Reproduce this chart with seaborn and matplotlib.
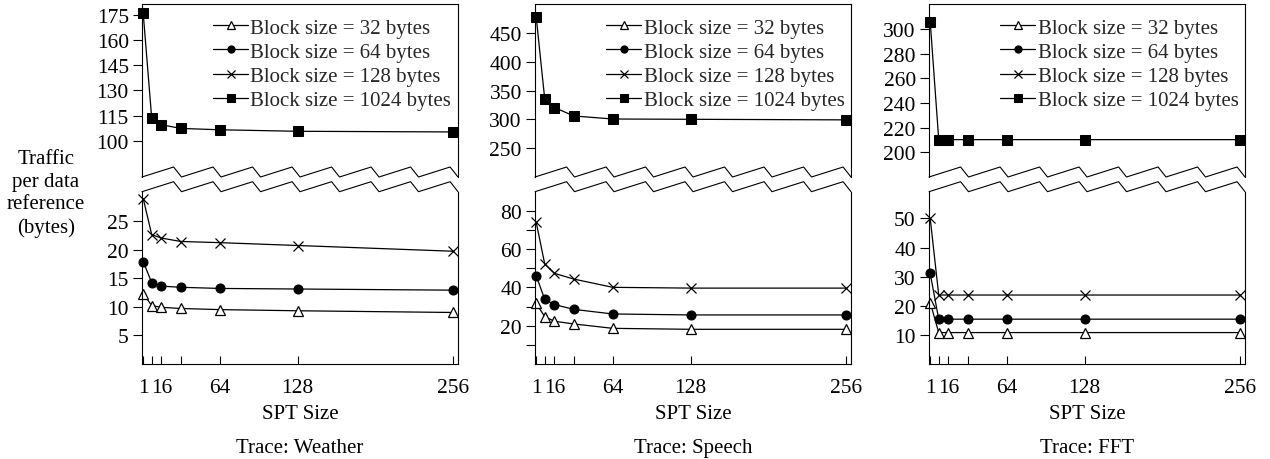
import numpy as np
import pandas as pd
import matplotlib
matplotlib.use("Agg")
import matplotlib.pyplot as plt
from matplotlib.ticker import FixedLocator, NullLocator
import seaborn as sns

sns.set_theme(style="white")
plt.rcParams["font.family"] = ["Liberation Serif", "DejaVu Serif"]

# SPT sizes on the x axis
spt = [1, 8, 16, 32, 64, 128, 256]
xtick_pos = [1, 8, 16, 32, 64, 128, 256]
xtick_lab = ["1", "", "16", "", "64", "128", "256"]

block_labels = ["Block size = 32 bytes", "Block size = 64 bytes",
                "Block size = 128 bytes", "Block size = 1024 bytes"]

# Traffic per data reference (bytes), per trace
weather_32 = [12.3, 10.2, 9.9, 9.7, 9.5, 9.3, 9.0]
weather_64 = [17.9, 14.2, 13.6, 13.4, 13.2, 13.1, 12.9]
weather_128 = [28.9, 22.6, 22.0, 21.4, 21.2, 20.7, 19.7]
weather_1024 = [176.0, 113.3, 109.5, 107.3, 106.5, 105.6, 105.2]

speech_32 = [31.6, 24.7, 22.3, 20.9, 18.6, 18.1, 18.1]
speech_64 = [46.1, 33.7, 31.0, 28.5, 26.1, 25.6, 25.6]
speech_128 = [73.9, 52.2, 47.3, 44.3, 40.0, 39.6, 39.6]
speech_1024 = [478.0, 335.5, 320.4, 305.8, 300.5, 300.0, 299.0]

fft_32 = [21.1, 10.8, 10.8, 10.8, 10.8, 10.8, 10.8]
fft_64 = [31.1, 15.4, 15.4, 15.4, 15.4, 15.4, 15.4]
fft_128 = [50.0, 23.7, 23.7, 23.7, 23.7, 23.7, 23.7]
fft_1024 = [305.9, 210.3, 210.3, 210.3, 210.3, 210.3, 210.3]

traces = ["Weather", "Speech", "FFT"]
series = {
    "Weather": [weather_32, weather_64, weather_128, weather_1024],
    "Speech": [speech_32, speech_64, speech_128, speech_1024],
    "FFT": [fft_32, fft_64, fft_128, fft_1024],
}

# axis ranges and ticks for the upper (1024 bytes) and lower parts
upper_ylim = {"Weather": (78.3, 181.6), "Speech": (199.4, 501.0), "FFT": (180.0, 320.3)}
lower_ylim = {"Weather": (0, 30.1), "Speech": (0, 89.9), "FFT": (0, 59.2)}
upper_ticks = {"Weather": [100, 115, 130, 145, 160, 175],
               "Speech": [250, 300, 350, 400, 450],
               "FFT": [200, 220, 240, 260, 280, 300]}
lower_ticks = {"Weather": [5, 10, 15, 20, 25],
               "Speech": [20, 40, 60, 80],
               "FFT": [10, 20, 30, 40, 50]}
lower_minor = {"Weather": [], "Speech": [10, 30, 50, 70], "FFT": []}

marker_styles = [
    dict(marker="^", markersize=7, markerfacecolor="white", markeredgecolor="black", markeredgewidth=0.9),
    dict(marker="o", markersize=6.5, markerfacecolor="black", markeredgecolor="black"),
    dict(marker="x", markersize=7, markeredgecolor="black", markeredgewidth=0.9),
    dict(marker="s", markersize=6.5, markerfacecolor="black", markeredgecolor="black"),
]

W, H = 1270, 460
fig = plt.figure(figsize=(W / 100, H / 100), dpi=100)

lefts_px = [142, 535, 929]
width_px = 316
up_top, up_bot = 5, 178
lo_top, lo_bot = 192.7, 365
fs = 15
tick_fs = 15.5


def zigzag(ax, base, height_px, ax_h_px, n=8, rise=0.8):
    h = height_px / ax_h_px
    xs, ys = [], []
    for k in range(n):
        xs += [k / n, (k + rise) / n]
        ys += [base, base + h]
    xs.append(1.0)
    ys.append(base)
    ax.plot(xs, ys, transform=ax.transAxes, color="black", lw=0.8,
            clip_on=False, solid_joinstyle="miter")


for i, tr in enumerate(traces):
    l = lefts_px[i] / W
    w = width_px / W
    ax_up = fig.add_axes([l, 1 - up_bot / H, w, (up_bot - up_top) / H])
    ax_lo = fig.add_axes([l, 1 - lo_bot / H, w, (lo_bot - lo_top) / H])

    vals = series[tr]
    for j in range(4):
        df = pd.DataFrame({"spt": spt, "traffic": vals[j]})
        target = ax_up if j == 3 else ax_lo
        sns.lineplot(data=df, x="spt", y="traffic", ax=target, color="black",
                     lw=0.9, legend=False, label=block_labels[j],
                     clip_on=False, **marker_styles[j])

    for ax in (ax_up, ax_lo):
        ax.set_xlim(0, 260)
        ax.set_xlabel("")
        ax.set_ylabel("")
        for s in ax.spines.values():
            s.set_color("black")
            s.set_linewidth(0.8)
        ax.tick_params(axis="y", which="both", direction="out", length=6.5,
                       width=0.8, colors="black", labelsize=tick_fs, pad=3,
                       left=True, right=False)
        ax.grid(False)

    ax_up.set_ylim(*upper_ylim[tr])
    ax_up.set_yticks(upper_ticks[tr])
    ax_up.spines["bottom"].set_visible(False)
    ax_up.xaxis.set_major_locator(NullLocator())
    ax_up.tick_params(axis="x", bottom=False, labelbottom=False)

    ax_lo.set_ylim(*lower_ylim[tr])
    ax_lo.set_yticks(lower_ticks[tr])
    if lower_minor[tr]:
        ax_lo.yaxis.set_minor_locator(FixedLocator(lower_minor[tr]))
        ax_lo.tick_params(axis="y", which="minor", length=6.5, width=0.8)
    ax_lo.spines["top"].set_visible(False)
    ax_lo.xaxis.set_major_locator(FixedLocator(xtick_pos))
    ax_lo.set_xticklabels(xtick_lab)
    ax_lo.tick_params(axis="x", direction="in", length=6, width=0.8,
                      colors="black", labelsize=tick_fs, pad=10, bottom=True, top=False)

    zigzag(ax_up, 0.0, 10, up_bot - up_top)
    zigzag(ax_lo, 1.0, 10, lo_bot - lo_top)

    ax_lo.set_xlabel("SPT Size", fontsize=fs, labelpad=5, color="black")
    fig.text(l + w / 2, 1 - 449 / H, f"Trace: {tr}",
             ha="center", va="center", fontsize=fs, color="black")

    h_up, lab_up = ax_up.get_legend_handles_labels()
    h_lo, lab_lo = ax_lo.get_legend_handles_labels()
    ax_up.legend(h_lo + h_up, lab_lo + lab_up, loc="upper left",
                 bbox_to_anchor=(71 / width_px, 1 - 14 / (up_bot - up_top)),
                 frameon=False, fontsize=fs, handlelength=1.7,
                 handletextpad=0.1, labelspacing=0.22, borderpad=0,
                 borderaxespad=0, markerscale=0.8)

fig.text(46 / W, 1 - 194 / H, "Traffic\nper data\nreference\n(bytes)",
         ha="center", va="center", multialignment="center", fontsize=fs,
         linespacing=1.28, color="black")

fig.savefig("out.png", dpi=100)
